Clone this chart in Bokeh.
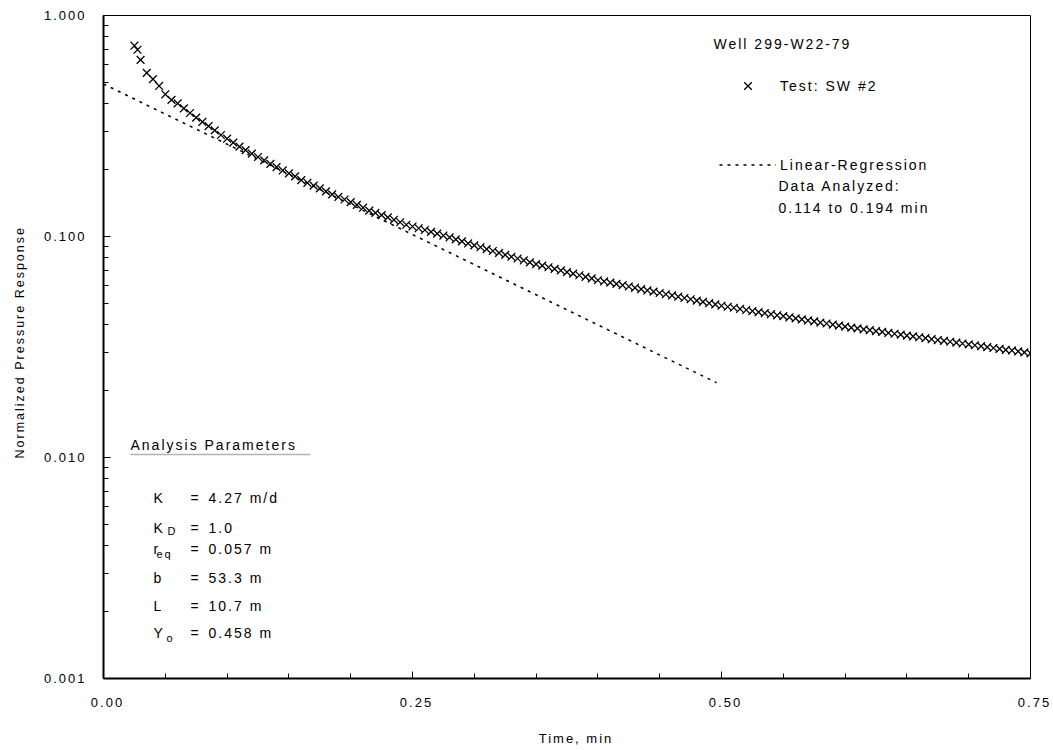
from bokeh.plotting import figure
from bokeh.models import (FixedTicker, PrintfTickFormatter, Label, Legend, LegendItem,
                          Range1d, InlineStyleSheet, BoxAnnotation, Title)
from bokeh.embed import file_html
from bokeh.resources import INLINE

# ---------------- data ----------------
time_min = [0.025, 0.0275, 0.030, 0.035, 0.040, 0.045, 0.050, 0.055, 0.060, 0.065,
            0.070, 0.075, 0.080, 0.085, 0.090, 0.095, 0.100, 0.105, 0.110, 0.115,
            0.120, 0.125, 0.130, 0.135, 0.140, 0.145, 0.150, 0.155, 0.160, 0.165,
            0.170, 0.175, 0.180, 0.185, 0.190, 0.195, 0.200, 0.205, 0.210, 0.215,
            0.220, 0.225, 0.230, 0.235, 0.240, 0.245, 0.250, 0.255, 0.260, 0.265,
            0.270, 0.275, 0.280, 0.285, 0.290, 0.295, 0.300, 0.305, 0.310, 0.315,
            0.320, 0.325, 0.330, 0.335, 0.340, 0.345, 0.350, 0.355, 0.360, 0.365,
            0.370, 0.375, 0.380, 0.385, 0.390, 0.395, 0.400, 0.405, 0.410, 0.415,
            0.420, 0.425, 0.430, 0.435, 0.440, 0.445, 0.450, 0.455, 0.460, 0.465,
            0.470, 0.475, 0.480, 0.485, 0.490, 0.495, 0.500, 0.505, 0.510, 0.515,
            0.520, 0.525, 0.530, 0.535, 0.540, 0.545, 0.550, 0.555, 0.560, 0.565,
            0.570, 0.575, 0.580, 0.585, 0.590, 0.595, 0.600, 0.605, 0.610, 0.615,
            0.620, 0.625, 0.630, 0.635, 0.640, 0.645, 0.650, 0.655, 0.660, 0.665,
            0.670, 0.675, 0.680, 0.685, 0.690, 0.695, 0.700, 0.705, 0.710, 0.715,
            0.720, 0.725, 0.730, 0.735, 0.740, 0.745, 0.750]
pressure_resp = [0.730, 0.700, 0.630, 0.550, 0.515, 0.480, 0.440, 0.415, 0.400, 0.380,
                 0.362, 0.345, 0.330, 0.316, 0.302, 0.288, 0.277, 0.266, 0.255, 0.246,
                 0.237, 0.229, 0.221, 0.213, 0.206, 0.199, 0.193, 0.187, 0.180, 0.175,
                 0.170, 0.165, 0.160, 0.155, 0.151, 0.147, 0.143, 0.139, 0.135, 0.131,
                 0.128, 0.125, 0.122, 0.119, 0.116, 0.113, 0.111, 0.109, 0.107, 0.105,
                 0.103, 0.101, 0.0990, 0.0970, 0.0950, 0.0930, 0.0912, 0.0894, 0.0877, 0.0860,
                 0.0843, 0.0826, 0.0810, 0.0795, 0.0779, 0.0764, 0.0750, 0.0738, 0.0726, 0.0714,
                 0.0702, 0.0690, 0.0679, 0.0668, 0.0657, 0.0646, 0.0634, 0.0626, 0.0618, 0.0610,
                 0.0602, 0.0594, 0.0586, 0.0578, 0.0570, 0.0563, 0.0555, 0.0548, 0.0541, 0.0534,
                 0.0527, 0.0520, 0.0513, 0.0506, 0.0499, 0.0493, 0.0486, 0.0481, 0.0476, 0.0470,
                 0.0465, 0.0460, 0.0455, 0.0450, 0.0445, 0.0440, 0.0436, 0.0431, 0.0426, 0.0422,
                 0.0417, 0.0413, 0.0408, 0.0404, 0.0399, 0.0395, 0.0391, 0.0387, 0.0384, 0.0380,
                 0.0377, 0.0373, 0.0370, 0.0366, 0.0363, 0.0360, 0.0356, 0.0353, 0.0350, 0.0347,
                 0.0343, 0.0340, 0.0337, 0.0334, 0.0331, 0.0328, 0.0325, 0.0322, 0.0319, 0.0316,
                 0.0313, 0.0310, 0.0307, 0.0305, 0.0302, 0.0299, 0.0296]

reg_time = [0.0, 0.496]
reg_resp = [0.49, 0.0218]

x_ticks = [0.0, 0.25, 0.50, 0.75]
x_minor_ticks = [0.05, 0.10, 0.15, 0.20, 0.30, 0.35, 0.40, 0.45, 0.55, 0.60, 0.65, 0.70]
y_ticks = [0.001, 0.01, 0.1, 1.0]

x_title = "Time, min"
y_title = "Normalized Pressure Response"
well_name = "Well 299-W22-79"
series_label = "Test: SW #2"
reg_label = "Linear-Regression"
reg_note = ["Data Analyzed:", "0.114 to 0.194 min"]

param_title = "Analysis Parameters"
param_names = ["K", "K", "r", "b", "L", "Y"]
param_subs = ["", "D", "eq", "", "", "o"]
param_values = ["4.27 m/d", "1.0", "0.057 m", "53.3 m", "10.7 m", "0.458 m"]

FONT = "Liberation Sans"

# ---------------- figure ----------------
p = figure(width=1053, height=750, y_axis_type="log",
           x_range=Range1d(0, 0.75), y_range=Range1d(0.001, 1.0),
           output_backend="svg", toolbar_location=None,
           min_border_left=102, min_border_right=23, min_border_top=15, min_border_bottom=72,
           background_fill_color="white", border_fill_color="white")
p.stylesheets = [InlineStyleSheet(css=":host { letter-spacing: 2px; }")]

p.xgrid.grid_line_color = None
p.ygrid.grid_line_color = None
p.outline_line_color = "black"
p.outline_line_width = 1

y_minor = [k * 10 ** e for e in (-3, -2, -1) for k in range(2, 10)]
p.yaxis.ticker = FixedTicker(ticks=y_ticks, minor_ticks=y_minor)
p.xaxis.ticker = FixedTicker(ticks=x_ticks, minor_ticks=x_minor_ticks)
p.yaxis.formatter = PrintfTickFormatter(format="%.3f")
p.xaxis.formatter = PrintfTickFormatter(format="%.2f")

for ax in (p.xaxis[0], p.yaxis[0]):
    ax.axis_line_width = 2
    ax.axis_line_color = "black"
    ax.major_tick_in = 7
    ax.major_tick_out = 0
    ax.minor_tick_in = 5
    ax.minor_tick_out = 0
    ax.major_tick_line_color = "black"
    ax.minor_tick_line_color = "black"
    ax.major_label_text_font = FONT
    ax.major_label_text_font_size = "13px"
    ax.major_label_text_color = "black"
    ax.axis_label_text_font = FONT
    ax.axis_label_text_font_size = "13px"
    ax.axis_label_text_font_style = "normal"
    ax.axis_label_text_color = "black"

p.yaxis.major_label_standoff = 27
p.xaxis.major_label_standoff = 19
p.xaxis.axis_label = x_title
p.xaxis.axis_label_standoff = 21

# y axis title: start-aligned title in the left panel
p.add_layout(Title(text=y_title, align="left", offset=220, vertical_align="top",
                   standoff=24, text_font=FONT, text_font_size="12.5px",
                   text_font_style="normal", text_color="black"), "left")

# ---------------- data glyphs ----------------
sc = p.scatter(time_min, pressure_resp, marker="x", size=11,
               line_color="black", line_width=1.3)
ln = p.line(reg_time, reg_resp, line_color="black", line_width=1.5, line_dash="3 5")

legend = Legend(items=[LegendItem(label=series_label, renderers=[sc]),
                       LegendItem(label=reg_label, renderers=[ln])],
                location=(616, 500), padding=0, margin=0, spacing=52,
                glyph_width=57, glyph_height=27, label_height=27,
                label_standoff=4, label_text_font=FONT, label_text_font_size="14px",
                label_text_color="black",
                border_line_color=None, background_fill_alpha=0)
p.add_layout(legend)

def lab(x, y, text, size="14px", baseline="middle", align="left"):
    p.add_layout(Label(x=x, y=y, x_units="screen", y_units="screen", text=text,
                       text_font=FONT, text_font_size=size, text_color="black",
                       text_baseline=baseline, text_align=align))

lab(610, 635, well_name)
lab(675, 493, reg_note[0])
lab(675, 471, reg_note[1])

# analysis parameters block
lab(27, 234, param_title)
p.add_layout(BoxAnnotation(left=27, right=207, bottom=224, top=224,
                           left_units="screen", right_units="screen",
                           top_units="screen", bottom_units="screen",
                           fill_alpha=0, line_color="black", line_width=1.5))

row_base = [181, 151, 130, 101, 73, 46]
sub_x = [0, 64, 53, 0, 0, 63]
sub_dy = [0, 3, 5, 0, 0, 5]
for nm, sb, val, yb, sx, dy in zip(param_names, param_subs, param_values, row_base, sub_x, sub_dy):
    lab(50, yb, nm, baseline="alphabetic")
    if sb:
        lab(sx, yb - dy, sb, size="11px", baseline="alphabetic")
    lab(87, yb, "=", baseline="alphabetic")
    lab(105, yb, val, baseline="alphabetic")

open("out.html", "w").write(file_html(p, INLINE))
